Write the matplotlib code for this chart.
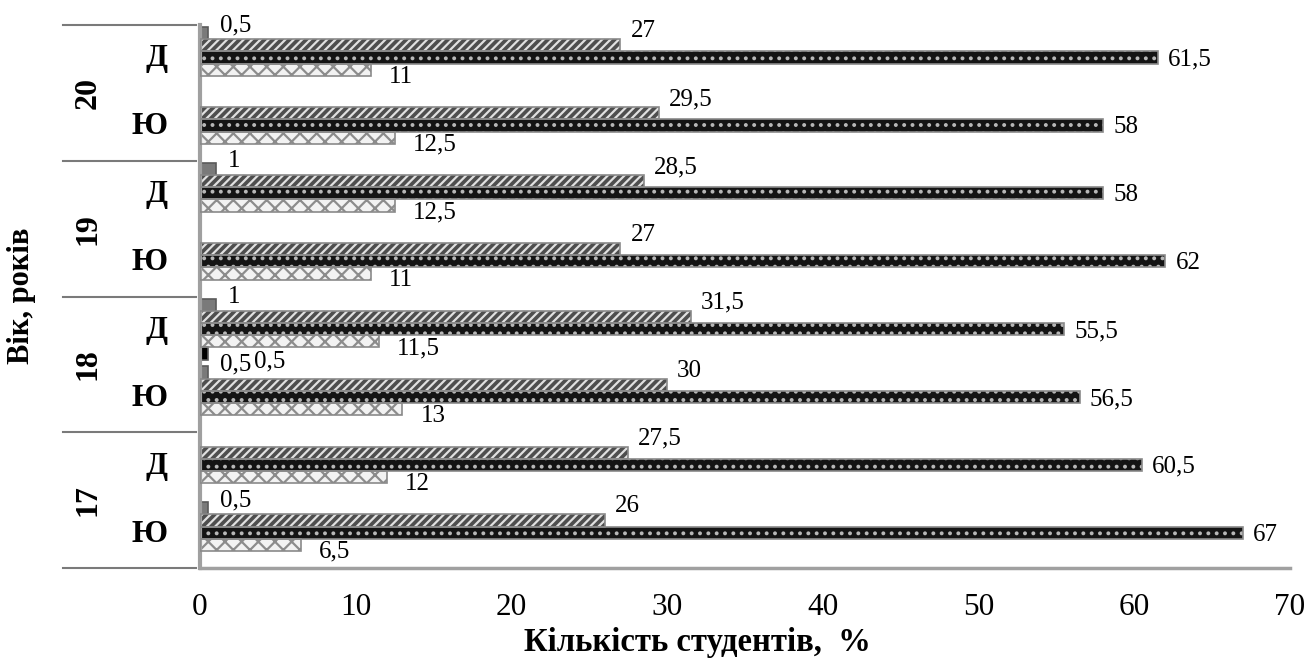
import matplotlib.pyplot as plt
import matplotlib.transforms as mtransforms
import numpy as np

plt.rcParams['font.family'] = ['Liberation Serif', 'DejaVu Serif']
plt.rcParams['hatch.linewidth'] = 1.6

# rows from bottom to top
ages = ['17', '18', '19', '20']
sexes = ['Ю', 'Д', 'Ю', 'Д', 'Ю', 'Д', 'Ю', 'Д']

# five answer groups, None = no bar
s1 = [0.5, None, 0.5, 1, None, 1, None, 0.5]
s2 = [26, 27.5, 30, 31.5, 27, 28.5, 29.5, 27]
s3 = [67, 60.5, 56.5, 55.5, 62, 58, 58, 61.5]
s4 = [6.5, 12, 13, 11.5, 11, 12.5, 12.5, 11]
s5 = [None, None, None, 0.5, None, None, None, None]

xticks = [0, 10, 20, 30, 40, 50, 60, 70]

fig = plt.figure(figsize=(13.14, 6.6), dpi=100)
ax = fig.add_axes([200 / 1314, 1 - 568 / 660, 1090 / 1314, 543 / 660])

y = np.arange(len(sexes))
h = 0.18
styles = [
    # offset, face, hatch, hatch colour, label offset (px)
    (0.38, '#7a7a7a', None, None, (12, 8)),
    (0.20, '#4e4e4e', '////', '#e0e0e0', (10, 14)),
    (0.02, '#141414', '..', '#b8b8b8', (10, -2)),
    (-0.16, '#f2f2f2', 'xx', '#8c8c8c', (18, -7)),
    (-0.34, '#000000', None, None, (46, -8)),
]

for vals, (off, face, hatch, hcol, loff) in zip([s1, s2, s3, s4, s5], styles):
    for yi, v in zip(y, vals):
        if v is None:
            continue
        yy = yi + off
        if hatch:
            ax.barh(yy, v, height=h, color=face, hatch=hatch,
                    edgecolor=hcol, linewidth=0, zorder=2)
            ax.barh(yy, v, height=h, fill=False, edgecolor='#8a8a8a',
                    linewidth=1.2, zorder=3)
        else:
            ax.barh(yy, v, height=h, color=face, edgecolor='#5a5a5a',
                    linewidth=1.2, zorder=2)
        txt = ('%g' % v).replace('.', ',')
        ax.annotate(txt, (v, yy), xytext=loff, textcoords='offset pixels',
                    ha='left', va='center', fontsize=18, zorder=4)

ax.set_xlim(0, 70)
ax.set_ylim(-0.5, 7.5)
ax.set_xticks(xticks)
ax.set_xticklabels([str(t) for t in xticks], fontsize=22.5)
ax.tick_params(axis='x', length=0, pad=18)
ax.set_yticks([])
for side in ['top', 'right']:
    ax.spines[side].set_visible(False)
ax.spines['left'].set_color('#a0a0a0')
ax.spines['left'].set_linewidth(3)
ax.spines['bottom'].set_color('#a0a0a0')
ax.spines['bottom'].set_linewidth(2.5)

# two-level category axis on the left
trans = mtransforms.blended_transform_factory(ax.transAxes, ax.transData)
for b in [-0.5, 1.5, 3.5, 5.5, 7.5]:
    ax.plot([-0.126, -0.004], [b, b], color='#7a7a7a', lw=1.5,
            transform=trans, clip_on=False)
for yi, s in zip(y, sexes):
    ax.text(-0.03, yi, s, transform=trans, ha='right', va='center',
            fontsize=23, fontweight='bold')
for i, a in enumerate(ages):
    ax.text(-0.103, 2 * i + 0.5, a, transform=trans, ha='center',
            va='center', rotation=90, fontsize=23, fontweight='bold')

fig.text(22 / 1314, 1 - 296 / 660, 'Вік, років', rotation=90, ha='center',
         va='center', fontsize=22, fontweight='bold')
fig.text(697 / 1314, 1 - 642 / 660, 'Кількість студентів,  %', ha='center',
         va='center', fontsize=23.5, fontweight='bold')

fig.savefig('out.png', dpi=100)
